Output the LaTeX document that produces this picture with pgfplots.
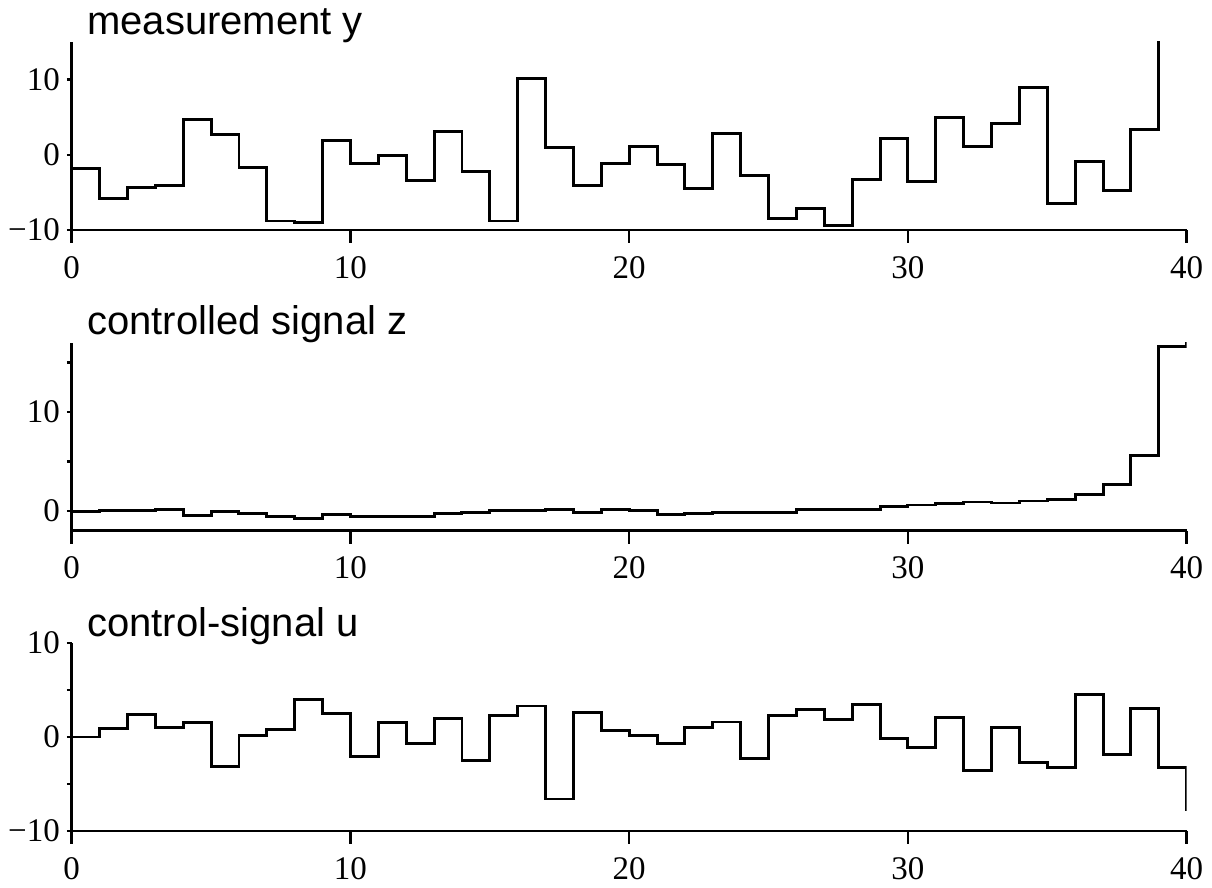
\documentclass[border=0pt]{standalone}
\usepackage{fontspec}
\setmainfont{Liberation Serif}
\newfontfamily\titlefont{Liberation Sans}
\usepackage{pgfplots}
\pgfplotsset{compat=1.18}
\pgfplotsset{
  panel/.style={
    scale only axis, width=557.5pt, height=94pt,
    xmin=0, xmax=40,
    axis lines=left, axis line style={-, line width=1.3pt, black},
    tick align=outside,
    xtick=\empty,
    major tick length=2.4pt, minor tick length=2.4pt,
    tick style={line width=1.2pt, black},
    ticklabel style={font=\fontsize{16.5}{18}\selectfont},
  },
  xover/.style={
    scale only axis, width=557.5pt, height=94pt,
    xmin=0, xmax=40, ymin=0, ymax=1,
    axis y line=none, axis x line=bottom,
    axis line style={-, line width=1.3pt, black},
    tick align=outside,
    ytick=\empty,
    xtick={0,10,20,30,40}, xticklabels={0,10,20,30,40},
    major tick length=6.5pt,
    tick style={line width=1.2pt, black},
    ticklabel style={font=\fontsize{16.5}{18}\selectfont},
    xticklabel style={yshift=-3pt},
  },
  stepline/.style={const plot, line width=1.45pt, black, mark=none},
}
\begin{document}
\begin{tikzpicture}
\useasboundingbox (0,0) rectangle (606pt,444pt);
% ---------------- measurement y
\begin{axis}[panel, at={(35.85pt,329pt)}, anchor=south west,
  ymin=-10, ymax=15, ytick={-10,0,10}, yticklabels={−10,0,10}]
\addplot[stepline] coordinates {
(0,-1.8) (1,-5.8) (2,-4.3) (3,-4.1) (4,4.7) (5,2.7) (6,-1.65) (7,-8.8) (8,-9.0) (9,1.9)
(10,-1.1) (11,-0.1) (12,-3.4) (13,3.1) (14,-2.2) (15,-8.8) (16,10.2) (17,1.0) (18,-4.1) (19,-1.1)
(20,1.1) (21,-1.3) (22,-4.5) (23,2.8) (24,-2.7) (25,-8.5) (26,-7.1) (27,-9.4) (28,-3.3) (29,2.2)
(30,-3.5) (31,4.9) (32,1.1) (33,4.2) (34,9.0) (35,-6.5) (36,-0.9) (37,-4.7) (38,3.4) (39,22)
(40,22)};
\end{axis}
\begin{axis}[xover, at={(35.85pt,329pt)}, anchor=south west]
\end{axis}
% ---------------- controlled signal z
\begin{axis}[panel, at={(35.85pt,178.65pt)}, anchor=south west,
  ymin=-2, ymax=17, ytick={0,10}, yticklabels={0,10}, minor ytick={5,15}]
\addplot[stepline] coordinates {
(0,-0.1) (1,0.07) (2,0.0) (3,0.17) (4,-0.44) (5,-0.07) (6,-0.27) (7,-0.6) (8,-0.75) (9,-0.4)
(10,-0.58) (11,-0.6) (12,-0.6) (13,-0.3) (14,-0.2) (15,0.07) (16,0.07) (17,0.13) (18,-0.17) (19,0.1)
(20,0.0) (21,-0.34) (22,-0.27) (23,-0.2) (24,-0.2) (25,-0.2) (26,0.17) (27,0.1) (28,0.1) (29,0.47)
(30,0.6) (31,0.75) (32,0.9) (33,0.8) (34,1.0) (35,1.15) (36,1.66) (37,2.7) (38,5.6) (39,16.57)
(40,20)};
\end{axis}
\begin{axis}[xover, at={(35.85pt,178.65pt)}, anchor=south west]
\end{axis}
% ---------------- control-signal u
\begin{axis}[panel, at={(35.85pt,28.5pt)}, anchor=south west,
  ymin=-10, ymax=10, ytick={-10,0,10}, yticklabels={−10,0,10}, minor ytick={-5,5}]
\addplot[stepline] coordinates {
(0,0) (1,0.93) (2,2.4) (3,1.0) (4,1.5) (5,-3.1) (6,0.18) (7,0.8) (8,4.0) (9,2.5)
(10,-2.1) (11,1.5) (12,-0.7) (13,2.0) (14,-2.5) (15,2.3) (16,3.3) (17,-6.6) (18,2.6) (19,0.7)
(20,0.2) (21,-0.7) (22,1.0) (23,1.6) (24,-2.3) (25,2.3) (26,2.9) (27,1.9) (28,3.5) (29,-0.2)
(30,-1.1) (31,2.1) (32,-3.6) (33,1.0) (34,-2.7) (35,-3.2) (36,4.5) (37,-1.9) (38,3.0) (39,-3.2)
(40,-7.9)};
\end{axis}
\begin{axis}[xover, at={(35.85pt,28.5pt)}, anchor=south west]
\end{axis}
% ---------------- titles
\node[anchor=base west, inner sep=0pt, font=\titlefont\fontsize{20}{21}\selectfont] at (43.5pt,426.5pt) {measurement y};
\node[anchor=base west, inner sep=0pt, font=\titlefont\fontsize{20}{21}\selectfont] at (43.5pt,276.5pt) {controlled signal z};
\node[anchor=base west, inner sep=0pt, font=\titlefont\fontsize{20}{21}\selectfont] at (43.5pt,125.5pt) {control-signal u};
\end{tikzpicture}
\end{document}
